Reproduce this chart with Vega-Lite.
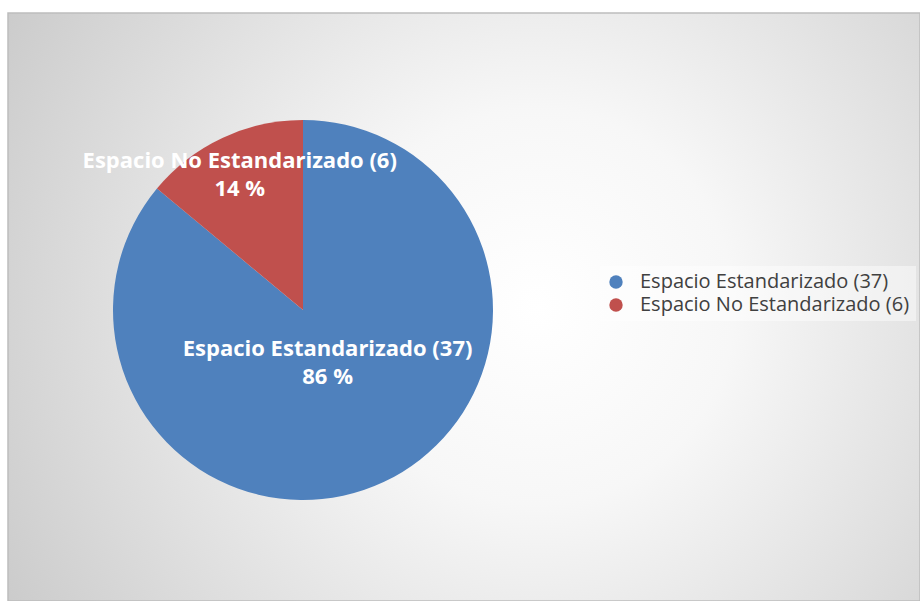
{
  "$schema": "https://vega.github.io/schema/vega-lite/v6.json",
  "width": 912,
  "height": 588,
  "autosize": {"type": "none"},
  "padding": {"left": 8, "top": 13, "right": 0, "bottom": 0},
  "background": "#ffffff",
  "config": {
    "view": {"stroke": null},
    "font": "Open Sans"
  },
  "data": {
    "values": [
      {"categoria": "Espacio Estandarizado (37)", "n": 37, "etiqueta": "Espacio Estandarizado (37)\n86 %"},
      {"categoria": "Espacio No Estandarizado (6)", "n": 6, "etiqueta": "Espacio No Estandarizado (6)\n14 %"}
    ]
  },
  "transform": [
    {"stack": "n", "groupby": [], "as": ["t0", "t1"]},
    {"calculate": "(datum.t0 + datum.t1) / 2", "as": "tmid"}
  ],
  "layer": [
    {
      "transform": [{"filter": "datum.n == 37"}],
      "mark": {
        "type": "rect",
        "fill": {"gradient": "radial", "x1": 0.58, "y1": 0.5, "r1": 0, "x2": 0.58, "y2": 0.5, "r2": 0.72,
          "stops": [{"offset": 0, "color": "#ffffff"}, {"offset": 0.3, "color": "#f7f7f7"}, {"offset": 1, "color": "#c6c6c6"}]},
        "stroke": "#bdbdbd",
        "strokeWidth": 1.5
      },
      "encoding": {}
    },
    {
      "mark": {"type": "arc", "x": 295, "y": 297, "outerRadius": 190, "stroke": null},
      "encoding": {
        "theta": {"field": "t0", "type": "quantitative", "scale": {"domain": [0, 43], "range": [0, 6.283185307]}},
        "theta2": {"field": "t1"},
        "color": {
          "field": "categoria",
          "type": "nominal",
          "scale": {"domain": ["Espacio Estandarizado (37)", "Espacio No Estandarizado (6)"], "range": ["#4f81bd", "#c0504d"]},
          "legend": {
            "orient": "none",
            "legendX": 592,
            "legendY": 253,
            "title": null,
            "padding": 6,
            "fillColor": "rgba(255,255,255,0.45)",
            "symbolType": "circle",
            "symbolSize": 180,
            "symbolStrokeWidth": 0,
            "symbolOpacity": 1,
            "labelFont": "Open Sans",
            "labelFontSize": 20,
            "labelColor": "#404040",
            "labelOffset": 14,
            "rowPadding": 3,
            "labelLimit": 400
          }
        }
      }
    },
    {
      "transform": [{"filter": "datum.n == 37"}],
      "mark": {"type": "text", "x": 295, "y": 297, "radius": 58, "dy": -14, "font": "Open Sans", "fontWeight": "bold", "fontSize": 22, "color": "#ffffff", "lineBreak": "\n", "lineHeight": 28, "align": "center", "baseline": "middle"},
      "encoding": {
        "theta": {"field": "tmid", "type": "quantitative", "scale": {"domain": [0, 43], "range": [0, 6.283185307]}},
        "text": {"field": "etiqueta"}
      }
    },
    {
      "transform": [{"filter": "datum.n == 6"}],
      "mark": {"type": "text", "x": 295, "y": 297, "radius": 149, "dy": -14, "font": "Open Sans", "fontWeight": "bold", "fontSize": 22, "color": "#ffffff", "lineBreak": "\n", "lineHeight": 28, "align": "center", "baseline": "middle"},
      "encoding": {
        "theta": {"field": "tmid", "type": "quantitative", "scale": {"domain": [0, 43], "range": [0, 6.283185307]}},
        "text": {"field": "etiqueta"}
      }
    }
  ]
}
